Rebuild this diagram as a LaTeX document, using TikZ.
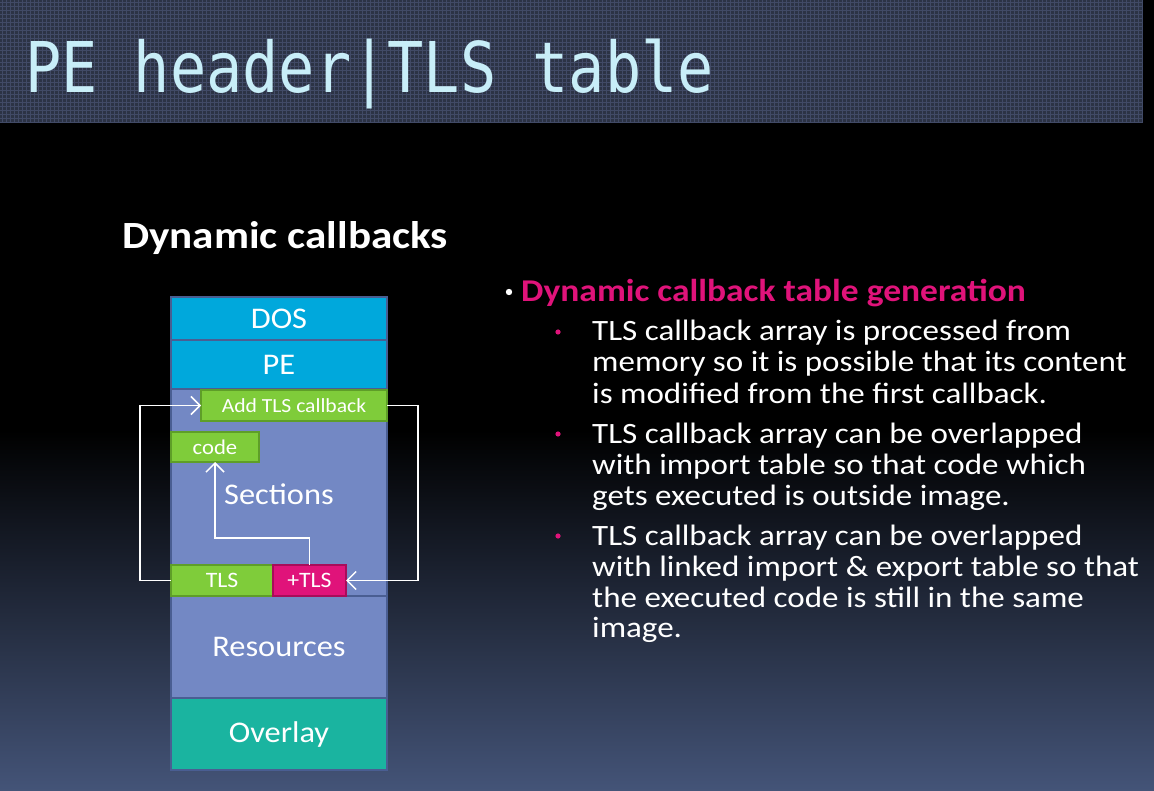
\documentclass[tikz,border=0pt]{standalone}
\usepackage{fontspec}
\setmainfont[FakeStretch=1.08]{Carlito}
\newfontfamily\widefont[FakeStretch=1.12]{Carlito}
\newfontfamily\monofont{DejaVu Sans Mono}
\usetikzlibrary{arrows.meta}
\definecolor{bandc}{HTML}{2C3345}
\definecolor{gridc}{HTML}{414A66}
\definecolor{titlec}{HTML}{C8EEF8}
\definecolor{bgbot}{HTML}{445478}
\definecolor{dosc}{HTML}{00A8DC}
\definecolor{secc}{HTML}{7388C4}
\definecolor{ovc}{HTML}{1AB4A0}
\definecolor{greenc}{HTML}{7FCC3A}
\definecolor{greenb}{HTML}{5E9E28}
\definecolor{pinkc}{HTML}{E0137A}
\definecolor{pinkb}{HTML}{A80C5A}
\definecolor{edgec}{HTML}{4A5E92}
\tikzset{
  layer/.style={draw=edgec, line width=1.2pt, inner sep=0pt, outer sep=0pt, anchor=north west,
    minimum width=216pt, text=white, font=\fontsize{30}{34}\selectfont},
  gbox/.style={draw=greenb, fill=greenc, line width=1.2pt, inner sep=0pt, outer sep=0pt,
    anchor=north west, text=white},
  arr/.style={draw=white, line width=1.5pt, -{Straight Barb[length=9pt,width=18pt]}},
  para/.style={anchor=base west, text=white, inner sep=0pt, font=\widefont\fontsize{29.5}{34}\selectfont},
  pdot/.style={fill=pinkc, draw=none}
}
\begin{document}
\begin{tikzpicture}[x=1pt,y=-1pt]
\useasboundingbox (0,0) rectangle (1154,791);
% background
\fill[black] (0,0) rectangle (1154,791);
\shade[top color=black, bottom color=bgbot] (0,430) rectangle (1154,791);
% title band
\fill[bandc] (0,0) rectangle (1143,122);
\foreach \x in {2,6,...,1142} \draw[gridc, line width=0.5pt] (\x,0) -- (\x,122);
\foreach \y in {2,6,...,122} \draw[gridc, line width=0.5pt] (0,\y) -- (1143,\y);
\node[anchor=base west, inner sep=0pt, text=titlec] (title) at (25,93)
  {\scalebox{0.86}[1]{\monofont\fontsize{70}{80}\selectfont PE header|TLS table}};
% subtitle
\node[anchor=base west, inner sep=0pt, text=white, font=\widefont\bfseries\fontsize{38.5}{42}\selectfont] (sub) at (122,249) {Dynamic callbacks};
% column
\node[layer, fill=dosc, minimum height=43pt] (dos) at (171,297) {DOS};
\node[layer, fill=dosc, minimum height=49pt] (pe) at (171,340) {PE};
\node[layer, fill=secc, minimum height=207pt] (sec) at (171,389) {};
\node[layer, fill=secc, minimum height=102pt] (res) at (171,596) {Resources};
\node[layer, fill=ovc, minimum height=72pt] (ov) at (171,698) {Overlay};
\node[text=white, font=\fontsize{30}{34}\selectfont, inner sep=0pt] (seclbl) at (279,494) {Sections};
% green boxes
\node[gbox, minimum width=186pt, minimum height=31pt, font=\fontsize{20}{24}\selectfont] (add) at (201,390) {Add TLS callback};
\node[gbox, minimum width=88pt, minimum height=30pt, font=\fontsize{21}{24}\selectfont] (code) at (171,432) {code};
\node[gbox, minimum width=102pt, minimum height=31pt, font=\fontsize{22}{24}\selectfont] (tls) at (171,565) {TLS};
\node[gbox, draw=pinkb, fill=pinkc, minimum width=73pt, minimum height=31pt, font=\fontsize{22}{24}\selectfont] (ptls) at (273,565) {+TLS};
% arrows
\draw[arr] (tls.west) -- ++(-31,0) |- (add.west);
\draw[arr] (add.east) -- ++(31,0) |- (ptls.east);
\draw[arr] (ptls.north) -- ++(0,-27) -| (code.south);
% right text
\fill[white] (509,292) circle (3.2);
\node[anchor=base west, inner sep=0pt, text=pinkc, font=\widefont\bfseries\fontsize{31.7}{36}\selectfont] (head) at (521,302) {Dynamic callback table generation};
\fill[pdot] (558,332) circle (2.6);
\node[para] (a1) at (592,341) {TLS callback array is processed from};
\node[para] (a2) at (592,372) {memory so it is possible that its content};
\node[para] (a3) at (592,403) {is modified from the first callback.};
\fill[pdot] (558,434) circle (2.6);
\node[para] (b1) at (592,443) {TLS callback array can be overlapped};
\node[para] (b2) at (592,474) {with import table so that code which};
\node[para] (b3) at (592,505) {gets executed is outside image.};
\fill[pdot] (558,536) circle (2.6);
\node[para] (c1) at (592,545) {TLS callback array can be overlapped};
\node[para] (c2) at (592,576) {with linked import \& export table so that};
\node[para] (c3) at (592,607) {the executed code is still in the same};
\node[para] (c4) at (592,637) {image.};
\end{tikzpicture}
\end{document}
